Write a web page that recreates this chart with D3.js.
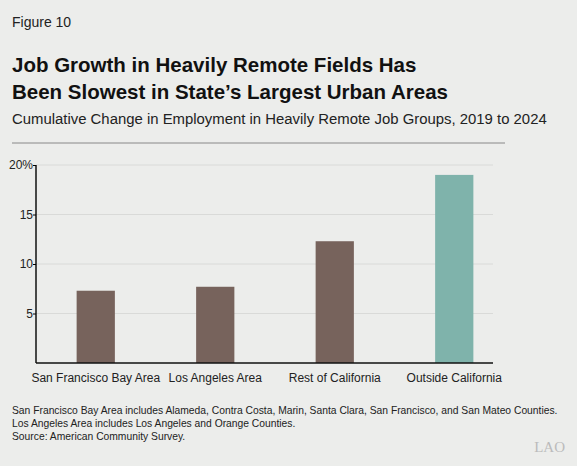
<!DOCTYPE html>
<html lang="en">
<head>
<meta charset="UTF-8">
<script src="https://d3js.org/d3.v7.min.js"></script>
<style>
body { margin: 0; background: #ecedeb; }
svg text { font-family: "Liberation Sans", Arial, sans-serif; }
</style>
</head>
<body>
<svg width="577" height="466"></svg>
<script>
const categories = ["San Francisco Bay Area", "Los Angeles Area", "Rest of California", "Outside California"];
const values = [7.3, 7.7, 12.3, 19.0];
const colors = ["#77635c", "#77635c", "#77635c", "#7fb3ab"];
const yTicks = [5, 10, 15, 20];

const svg = d3.select("svg");
svg.append("rect").attr("width", 577).attr("height", 466).attr("fill", "#ecedeb");

svg.append("text").attr("x", 12).attr("y", 27).style("font-size", "14px").attr("fill", "#222").text("Figure 10");
svg.append("text").attr("x", 12).attr("y", 72).style("font-size", "20.5px").style("font-weight", "bold").attr("fill", "#111").text("Job Growth in Heavily Remote Fields Has");
svg.append("text").attr("x", 12).attr("y", 99).style("font-size", "20.5px").style("font-weight", "bold").attr("fill", "#111").text("Been Slowest in State\u2019s Largest Urban Areas");
svg.append("text").attr("x", 12).attr("y", 124).style("font-size", "14.9px").attr("fill", "#222").text("Cumulative Change in Employment in Heavily Remote Job Groups, 2019 to 2024");
svg.append("line").attr("x1", 12).attr("x2", 505).attr("y1", 143).attr("y2", 143).attr("stroke", "#888").attr("stroke-width", 1);

const x = d3.scaleBand().domain(categories).range([36, 514]).paddingInner(0.68).paddingOuter(0.34);
const y = d3.scaleLinear().domain([0, 20]).range([363, 165]);

svg.append("g").selectAll("line").data(yTicks).join("line")
  .attr("x1", 36).attr("x2", 493).attr("y1", d => y(d)).attr("y2", d => y(d))
  .attr("stroke", "#d9dad8").attr("stroke-width", 1);

svg.append("g").selectAll("rect").data(values).join("rect")
  .attr("x", (d, i) => x(categories[i])).attr("width", x.bandwidth())
  .attr("y", d => y(d)).attr("height", d => y(0) - y(d))
  .attr("fill", (d, i) => colors[i]);

const yAxis = svg.append("g").attr("transform", "translate(36,0)")
  .call(d3.axisLeft(y).tickValues(yTicks).tickSize(3).tickFormat(d => d === 20 ? "20%" : d));
yAxis.select(".domain").attr("d", "M0," + y(20) + "V" + y(0)).attr("stroke", "#111").attr("stroke-width", 1.5);
yAxis.selectAll("text").style("font-size", "12px").attr("fill", "#222").attr("x", -3);

const xAxis = svg.append("g").attr("transform", "translate(0,363)")
  .call(d3.axisBottom(x).tickSize(0).tickPadding(10));
xAxis.select(".domain").attr("d", "M36,0H493").attr("stroke", "#111").attr("stroke-width", 1.5);
xAxis.selectAll("text").style("font-size", "12px").attr("fill", "#222");

const notes = [
  "San Francisco Bay Area includes Alameda, Contra Costa, Marin, Santa Clara, San Francisco, and San Mateo Counties.",
  "Los Angeles Area includes Los Angeles and Orange Counties.",
  "Source: American Community Survey."
];
svg.append("g").selectAll("text").data(notes).join("text")
  .attr("x", 12).attr("y", (d, i) => 414 + i * 13)
  .style("font-size", "10.3px").attr("fill", "#222").text(d => d);

svg.append("text").attr("x", 565).attr("y", 452).attr("text-anchor", "end")
  .style("font-family", "'Liberation Serif', serif").style("font-size", "15px").attr("fill", "#bbb").text("LAO");
</script>
</body>
</html>
